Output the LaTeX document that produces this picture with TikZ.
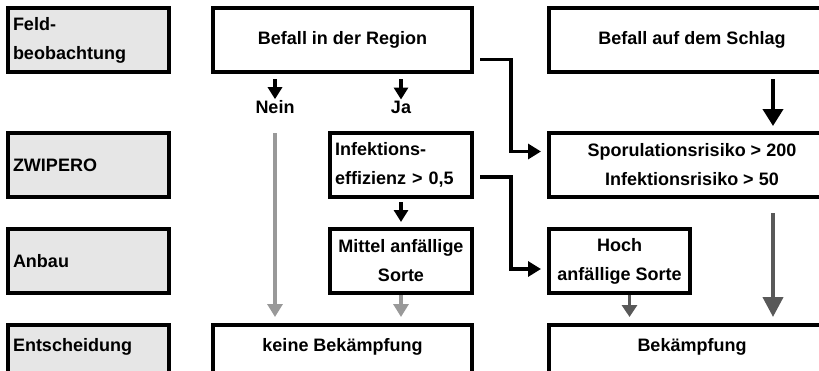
\documentclass[tikz,border=0pt]{standalone}
\usepackage{fontspec}
\setmainfont{Liberation Sans}
\usepackage{xcolor}
\usepackage{tikz}
\usetikzlibrary{arrows.meta,positioning}

\definecolor{labgray}{HTML}{E6E6E6}
\definecolor{lightarr}{HTML}{999999}
\definecolor{darkarr}{HTML}{595959}

\begin{document}
\begin{tikzpicture}[
    x=1pt, y=-1pt,
    font=\bfseries\fontsize{18pt}{29pt}\selectfont,
    lab/.style={draw, line width=3.4pt, fill=labgray, outer sep=0pt, minimum height=64pt, text width=151pt, inner xsep=5pt, align=left},
    wbox/.style={draw, line width=3.4pt, fill=white, outer sep=0pt, minimum height=64pt, align=center},
    lbox/.style={wbox, text width=132pt, inner xsep=5pt, align=left},
    bottom/.style={text height=22pt, text depth=34pt, inner ysep=4pt},
    answer/.style={inner sep=0pt},
    blk/.style={-{Triangle[width=14pt,length=12pt]}, line width=3.2pt},
    elbow/.style={-{Triangle[width=15pt,length=13pt]}, line width=3.2pt},
    lgarrow/.style={-{Triangle[width=15pt,length=13pt]}, line width=3.2pt, draw=lightarr, fill=lightarr},
    dkarrow/.style={-{Triangle[width=15pt,length=12pt]}, line width=3.2pt, draw=darkarr, fill=darkarr},
    bigblk/.style={-{Triangle[width=20pt,length=17pt]}, line width=4pt},
    bigdark/.style={-{Triangle[width=20pt,length=20pt]}, line width=4pt, draw=darkarr, fill=darkarr}
]
\useasboundingbox (0,0) rectangle (819,370);
\clip (0,0) rectangle (819,370);

% row labels
\node[lab, anchor=north west] (feld) at (8,8) {Feld-\\beobachtung};
\node[lab, below=61pt of feld] (zwipero) {ZWIPERO};
\node[lab, below=32pt of zwipero] (anbau) {Anbau};
\node[lab, below=32pt of anbau, bottom] (entsch) {Entscheidung};

% decision chart
\node[wbox, minimum width=259pt, right=44pt of feld] (regio) {Befall in der Region};
\node[wbox, minimum width=286pt, right=77pt of regio] (schlag) {Befall auf dem Schlag};
\node[lbox, below=61pt of regio.south east, anchor=north east] (infekt) {Infektions-\\effizienz > 0,5};
\node[wbox, minimum width=142pt, below=32pt of infekt] (mittel) {Mittel anf\"allige\\Sorte};
\node[wbox, minimum width=286pt, below=61pt of schlag] (sporu) {Sporulationsrisiko > 200\\Infektionsrisiko > 50};
\node[wbox, minimum width=141pt, below=32pt of sporu.south west, anchor=north west] (hoch) {Hoch\\anf\"allige Sorte};
\node[wbox, bottom, minimum width=259pt, below=32pt of mittel.south east, anchor=north east] (keine) {keine Bek\"ampfung};
\node[wbox, bottom, minimum width=286pt, below=32pt of hoch.south west, anchor=north west] (bekaempf) {Bek\"ampfung};

\node[answer] (nein) at (275,107) {Nein};
\node[answer] (ja) at (nein -| mittel) {Ja};

\draw[blk, shorten <=7pt, shorten >=1pt] (nein |- regio.south) -- (nein.north);
\draw[blk, shorten <=7pt, shorten >=1pt] (ja |- regio.south) -- (ja.north);
\draw[lgarrow, shorten >=8pt] (nein |- zwipero.north) -- (nein |- keine.north);
\draw[blk, shorten <=5pt, shorten >=7pt] (infekt.south -| mittel) -- (mittel.north);
\draw[lgarrow, shorten <=2pt, shorten >=8pt] (mittel.south) -- (mittel.south |- keine.north);

\draw[elbow, shorten >=8pt] ([xshift=8pt,yshift=-19.5pt]regio.east) -- ++(31pt,0) |- ([yshift=13.5pt]sporu.west);
\draw[elbow, shorten >=8pt] ([xshift=8pt,yshift=-12pt]infekt.east) -- ++(31pt,0) |- ([yshift=-8pt]hoch.west);

\draw[bigblk, shorten <=7pt, shorten >=7pt] ([xshift=81pt]schlag.south) -- ([xshift=81pt]sporu.north);
\draw[bigdark, shorten <=16pt, shorten >=8pt] ([xshift=81pt]sporu.south) -- ([xshift=81pt]bekaempf.north);
\draw[dkarrow, shorten <=2pt, shorten >=8pt] ([xshift=10pt]hoch.south) -- ([xshift=10pt]hoch.south |- bekaempf.north);
\end{tikzpicture}
\end{document}
